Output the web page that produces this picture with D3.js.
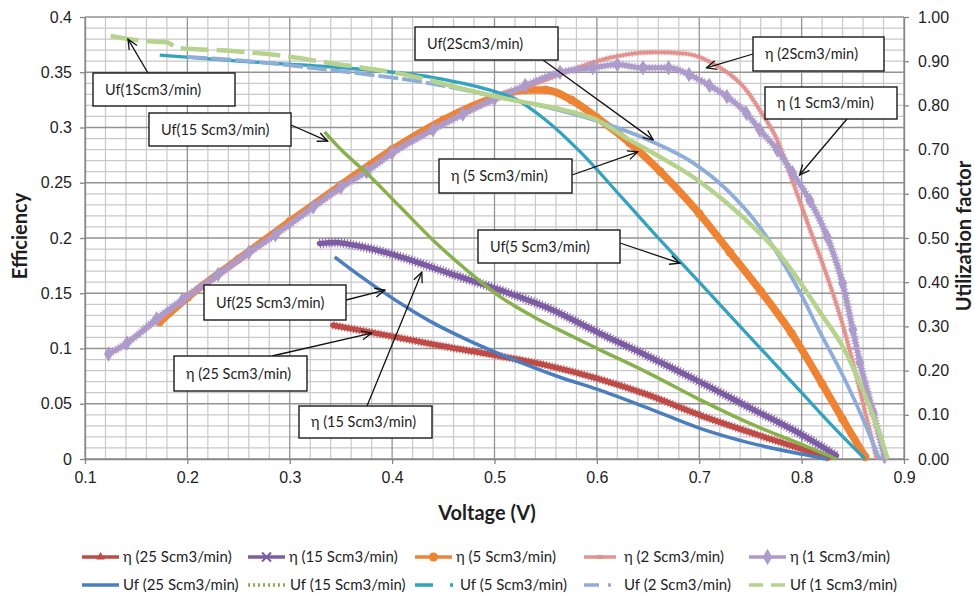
<!DOCTYPE html>
<html>
<head>
<meta charset="utf-8">
<script src="https://cdn.jsdelivr.net/npm/d3@7"></script>
<style>
  html, body { margin: 0; padding: 0; background: #fff; }
  svg { display: block; font-family: Lato, "Open Sans", sans-serif; }
</style>
</head>
<body>
<svg id="chart" width="974" height="596"></svg>
<script>
// ---- Efficiency series (left axis): cell voltage [V] and efficiency ----
const eta25V = [0.342, 0.36, 0.40, 0.45, 0.50, 0.55, 0.60, 0.65, 0.70, 0.75, 0.80, 0.826];
const eta25  = [0.121, 0.118, 0.111, 0.102, 0.094, 0.085, 0.073, 0.058, 0.040, 0.024, 0.009, 0.001];

const eta15V = [0.329, 0.345, 0.36, 0.385, 0.408, 0.456, 0.505, 0.554, 0.60, 0.65, 0.70, 0.75, 0.80, 0.834];
const eta15  = [0.195, 0.196, 0.194, 0.189, 0.183, 0.168, 0.153, 0.136, 0.115, 0.093, 0.070, 0.046, 0.022, 0.003];

const eta5V = [0.173, 0.2, 0.25, 0.3, 0.35, 0.4, 0.45, 0.5, 0.53, 0.55, 0.575, 0.60, 0.632, 0.662, 0.70, 0.73, 0.76, 0.79, 0.82, 0.84, 0.862];
const eta5  = [0.124, 0.146, 0.181, 0.215, 0.248, 0.280, 0.307, 0.327, 0.334, 0.334, 0.325, 0.309, 0.286, 0.260, 0.222, 0.187, 0.152, 0.114, 0.068, 0.036, 0.002];

const eta2V = [0.13, 0.15, 0.2, 0.25, 0.3, 0.35, 0.4, 0.45, 0.5, 0.55, 0.575, 0.596, 0.629, 0.655, 0.685, 0.70, 0.715, 0.73, 0.745, 0.759, 0.776, 0.791, 0.808, 0.825, 0.84, 0.857, 0.873];
const eta2  = [0.098, 0.111, 0.146, 0.179, 0.212, 0.245, 0.276, 0.303, 0.325, 0.343, 0.352, 0.359, 0.366, 0.368, 0.367, 0.364, 0.357, 0.348, 0.335, 0.316, 0.289, 0.252, 0.208, 0.165, 0.122, 0.062, 0.001];

const eta1V = [0.123, 0.141, 0.17, 0.195, 0.23, 0.26, 0.286, 0.323, 0.35, 0.375, 0.4, 0.44, 0.469, 0.5, 0.53, 0.564, 0.596, 0.62, 0.645, 0.67, 0.69, 0.71, 0.727, 0.746, 0.759, 0.776, 0.791, 0.808, 0.825, 0.84, 0.85, 0.857, 0.87, 0.881];
const eta1  = [0.095, 0.105, 0.127, 0.144, 0.167, 0.187, 0.203, 0.228, 0.246, 0.260, 0.277, 0.298, 0.312, 0.326, 0.338, 0.350, 0.354, 0.357, 0.354, 0.354, 0.348, 0.338, 0.328, 0.313, 0.298, 0.280, 0.259, 0.234, 0.201, 0.159, 0.117, 0.087, 0.042, 0.002];

// ---- Utilization factor series (right axis) ----
const uf25V = [0.344, 0.37, 0.391, 0.42, 0.44, 0.475, 0.512, 0.564, 0.60, 0.65, 0.70, 0.75, 0.80, 0.825];
const uf25  = [0.457, 0.412, 0.378, 0.335, 0.308, 0.268, 0.231, 0.185, 0.158, 0.115, 0.070, 0.036, 0.011, 0.0];

const uf15V = [0.334, 0.35, 0.375, 0.408, 0.44, 0.473, 0.505, 0.538, 0.571, 0.603, 0.65, 0.70, 0.75, 0.80, 0.834];
const uf15  = [0.740, 0.700, 0.647, 0.570, 0.495, 0.427, 0.368, 0.322, 0.283, 0.247, 0.195, 0.135, 0.080, 0.033, 0.0];

const uf5V = [0.173, 0.25, 0.34, 0.44, 0.495, 0.52, 0.55, 0.585, 0.625, 0.66, 0.68, 0.72, 0.746, 0.80, 0.83, 0.862];
const uf5  = [0.914, 0.900, 0.887, 0.863, 0.835, 0.815, 0.767, 0.692, 0.590, 0.500, 0.450, 0.350, 0.285, 0.150, 0.075, 0.0];

const uf2V = [0.2, 0.26, 0.339, 0.437, 0.502, 0.551, 0.60, 0.652, 0.694, 0.727, 0.759, 0.786, 0.80, 0.815, 0.84, 0.86, 0.876];
const uf2  = [0.910, 0.900, 0.880, 0.850, 0.819, 0.796, 0.765, 0.720, 0.670, 0.609, 0.525, 0.428, 0.370, 0.300, 0.190, 0.090, 0.0];

const uf1V = [0.125, 0.157, 0.18, 0.19, 0.245, 0.30, 0.339, 0.405, 0.437, 0.486, 0.518, 0.567, 0.60, 0.632, 0.662, 0.694, 0.727, 0.759, 0.776, 0.80, 0.82, 0.84, 0.86, 0.875, 0.884];
const uf1  = [0.957, 0.946, 0.943, 0.930, 0.923, 0.910, 0.896, 0.873, 0.857, 0.828, 0.812, 0.790, 0.767, 0.722, 0.683, 0.638, 0.579, 0.511, 0.470, 0.395, 0.325, 0.255, 0.155, 0.065, 0.0];

// ---- Axis ticks ----
const voltageTicks = [0.1, 0.2, 0.3, 0.4, 0.5, 0.6, 0.7, 0.8, 0.9];
const effTicks = [0, 0.05, 0.1, 0.15, 0.2, 0.25, 0.3, 0.35, 0.4];
const ufTicks = [0, 0.1, 0.2, 0.3, 0.4, 0.5, 0.6, 0.7, 0.8, 0.9, 1.0];

// ---- Series table (data + drawing style) ----
const zip = (a, b) => a.map((v, i) => [v, b[i]]);
const series = [
  { name: "η (25 Scm3/min)", pts: zip(eta25V, eta25), axis: "L", color: "#BE4B48", width: 5.5, texture: 8, marker: "triangle", mSize: 30 },
  { name: "η (15 Scm3/min)", pts: zip(eta15V, eta15), axis: "L", color: "#7D5CA3", width: 5.5, texture: 9.5, marker: "x", mSize: 50 },
  { name: "η (5 Scm3/min)",  pts: zip(eta5V, eta5),   axis: "L", color: "#EE8433", width: 7.5, texture: 0, marker: "circle", mSize: 60 },
  { name: "η (2 Scm3/min)",  pts: zip(eta2V, eta2),   axis: "L", color: "#E2928F", width: 3.5, texture: 5.5, marker: "dash", mSize: 20 },
  { name: "η (1 Scm3/min)",  pts: zip(eta1V, eta1),   axis: "L", color: "#AD9BCB", width: 5, texture: 8, marker: "diamond", mSize: 70 },
  { name: "Uf (25 Scm3/min)", pts: zip(uf25V, uf25), axis: "R", color: "#4A7EBF", width: 3.5, dash: null, legendDash: null },
  { name: "Uf (15 Scm3/min)", pts: zip(uf15V, uf15), axis: "R", color: "#88B04B", width: 3.5, dash: null, legendDash: "2,3" },
  { name: "Uf (5 Scm3/min)",  pts: zip(uf5V, uf5),   axis: "R", color: "#33A2BE", width: 3.3, dash: null, legendDash: "18,17,3,40" },
  { name: "Uf (2 Scm3/min)",  pts: zip(uf2V, uf2),   axis: "R", color: "#8FADDB", width: 3.8, dash: "20,4", dashUntil: 0.5, legendDash: "15,9,3,40" },
  { name: "Uf (1 Scm3/min)",  pts: zip(uf1V, uf1),   axis: "R", color: "#B5D38D", width: 4.5, dash: "28,8", dashUntil: 0.437, legendDash: "14,8" }
];

// ---- Scales ----
const x  = d3.scaleLinear().domain([0.1, 0.9]).range([85, 904]);
const yL = d3.scaleLinear().domain([0, 0.4]).range([459, 17]);
const yR = d3.scaleLinear().domain([0, 1]).range([459, 17]);
const yOf = s => (s.axis === "L" ? yL : yR);

const svg = d3.select("#chart");

// ---- Gridlines ----
const grid = svg.append("g");
const minorX = d3.range(0, 41).filter(i => i % 5 !== 0).map(i => 0.1 + i * 0.02);
const minorY = d3.range(0, 41).filter(i => i % 5 !== 0).map(i => i * 0.01);
grid.selectAll(".mx").data(minorX).join("line")
  .attr("x1", d => x(d)).attr("x2", d => x(d)).attr("y1", yL(0)).attr("y2", yL(0.4))
  .attr("stroke", "#c9c9c9").attr("stroke-width", 1.2);
grid.selectAll(".my").data(minorY).join("line")
  .attr("x1", x(0.1)).attr("x2", x(0.9)).attr("y1", d => yL(d)).attr("y2", d => yL(d))
  .attr("stroke", "#c9c9c9").attr("stroke-width", 1.2);
grid.selectAll(".Mx").data(voltageTicks).join("line")
  .attr("x1", d => x(d)).attr("x2", d => x(d)).attr("y1", yL(0)).attr("y2", yL(0.4))
  .attr("stroke", "#939393").attr("stroke-width", 1.3);
grid.selectAll(".My").data(effTicks).join("line")
  .attr("x1", x(0.1)).attr("x2", x(0.9)).attr("y1", d => yL(d)).attr("y2", d => yL(d))
  .attr("stroke", "#939393").attr("stroke-width", 1.3);

// ---- Axes ----
function styleAxis(g) {
  g.select(".domain").attr("stroke", "#868686").attr("stroke-width", 1.3);
  g.selectAll(".tick line").attr("stroke", "#868686").attr("stroke-width", 1.3);
  g.selectAll(".tick text").attr("fill", "#1e1e1e").attr("font-size", 16);
}
svg.append("g").attr("transform", `translate(0,${yL(0)})`)
  .call(d3.axisBottom(x).tickValues(voltageTicks).tickFormat(d3.format(".1f")).tickSize(5).tickPadding(8).tickSizeOuter(0))
  .call(styleAxis);
svg.append("g").attr("transform", `translate(${x(0.1)},0)`)
  .call(d3.axisLeft(yL).tickValues(effTicks).tickFormat(d => d === 0 ? "0" : d3.format(".2~f")(d)).tickSize(5).tickPadding(8).tickSizeOuter(0))
  .call(styleAxis);
svg.append("g").attr("transform", `translate(${x(0.9)},0)`)
  .call(d3.axisRight(yR).tickValues(ufTicks).tickFormat(d3.format(".2f")).tickSize(5).tickPadding(9).tickSizeOuter(0))
  .call(styleAxis);

// ---- Axis titles ----
svg.append("text").attr("x", 487).attr("y", 520).attr("text-anchor", "middle")
  .attr("font-size", 20).attr("font-weight", "bold").attr("fill", "#1e1e1e").text("Voltage (V)");
svg.append("text").attr("transform", "translate(27,236) rotate(-90)").attr("text-anchor", "middle")
  .attr("font-size", 20).attr("font-weight", "bold").attr("fill", "#1e1e1e").text("Efficiency");
svg.append("text").attr("transform", "translate(971,236) rotate(-90)").attr("text-anchor", "middle")
  .attr("font-size", 20).attr("font-weight", "bold").attr("fill", "#1e1e1e").text("Utilization factor");

// ---- Markers ----
const symbolType = {
  triangle: d3.symbolTriangle, x: d3.symbolTimes, circle: d3.symbolCircle, diamond: d3.symbolDiamond
};
function drawMarker(g, s, cx, cy, scale) {
  if (!s.marker) return;
  if (s.marker === "dash") {
    g.append("rect").attr("x", cx - 3).attr("y", cy - 2).attr("width", 6).attr("height", 4).attr("fill", s.color);
    return;
  }
  const p = d3.symbol().type(symbolType[s.marker]).size(s.mSize * scale)();
  const m = g.append("path").attr("d", p).attr("transform", `translate(${cx},${cy})`);
  if (s.marker === "x") m.attr("fill", "none").attr("stroke", s.color).attr("stroke-width", 2);
  else m.attr("fill", s.color);
}

// ---- Curves ----
const plot = svg.append("g");
const lineFor = s => d3.line().x(d => x(d[0])).y(d => yOf(s)(d[1])).curve(d3.curveMonotoneX);

series.filter(s => s.axis === "L").forEach(s => {
  const g = plot.append("g");
  g.append("path").attr("d", lineFor(s)(s.pts)).attr("fill", "none")
    .attr("stroke", s.color).attr("stroke-width", s.width).attr("stroke-linejoin", "round").attr("stroke-linecap", "round");
  if (s.texture) {
    // dense-marker fringe along the curve
    g.append("path").attr("d", lineFor(s)(s.pts)).attr("fill", "none")
      .attr("stroke", s.color).attr("stroke-width", s.texture).attr("stroke-dasharray", "1.2,1.8").attr("opacity", 0.85);
  }
  if (s.marker === "diamond" || s.marker === "circle") {
    s.pts.forEach(d => drawMarker(g, s, x(d[0]), yOf(s)(d[1]), 1));
  }
});
series.filter(s => s.axis === "R").forEach(s => {
  if (s.dash) {
    // sparse early samples render as dashes, the dense remainder as a solid trace
    let cut = s.pts.findIndex(d => d[0] >= s.dashUntil);
    if (cut < 0) cut = s.pts.length - 1;
    const head = s.pts.slice(0, cut + 1);
    const tail = s.pts.slice(cut);
    plot.append("path").attr("d", lineFor(s)(head)).attr("fill", "none")
      .attr("stroke", s.color).attr("stroke-width", s.width).attr("stroke-dasharray", s.dash);
    plot.append("path").attr("d", lineFor(s)(tail)).attr("fill", "none")
      .attr("stroke", s.color).attr("stroke-width", s.width).attr("stroke-linejoin", "round");
  } else {
    plot.append("path").attr("d", lineFor(s)(s.pts)).attr("fill", "none")
      .attr("stroke", s.color).attr("stroke-width", s.width).attr("stroke-linejoin", "round");
  }
});

// ---- Callout boxes with arrows ----
const defs = svg.append("defs");
defs.append("marker").attr("id", "arrow").attr("viewBox", "0 0 12 12").attr("refX", 11).attr("refY", 6)
  .attr("markerWidth", 12).attr("markerHeight", 12).attr("markerUnits", "userSpaceOnUse").attr("orient", "auto")
  .append("path").attr("d", "M1,1.5 L11,6 L1,10.5").attr("fill", "none").attr("stroke", "#111").attr("stroke-width", 1.3);

const callouts = [
  { text: "Uf(1Scm3/min)",    box: [93, 73, 142, 33],  from: [148, 73],  tip: [0.142, 0.950], axis: "R" },
  { text: "Uf(15 Scm3/min)",  box: [149, 113, 142, 33], from: [291, 125], tip: [0.337, 0.719], axis: "R" },
  { text: "Uf(2Scm3/min)",    box: [415, 27, 143, 33],  from: [543, 60],  tip: [0.655, 0.722], axis: "R" },
  { text: "η (5 Scm3/min)",   box: [439, 159, 133, 34], from: [572, 175], tip: [0.640, 0.278], axis: "L" },
  { text: "η (2Scm3/min)",    box: [753, 37, 131, 34],  from: [753, 54],  tip: [0.707, 0.354], axis: "L" },
  { text: "η (1 Scm3/min)",   box: [765, 87, 132, 32],  from: [847, 119], tip: [0.798, 0.257], axis: "L" },
  { text: "Uf(5 Scm3/min)",   box: [478, 230, 142, 33], from: [620, 243], tip: [0.681, 0.443], axis: "R" },
  { text: "Uf(25 Scm3/min)",  box: [204, 285, 142, 35], from: [346, 300], tip: [0.393, 0.382], axis: "R" },
  { text: "η (25 Scm3/min)",  box: [174, 356, 133, 35], from: [272, 356], tip: [0.380, 0.114], axis: "L" },
  { text: "η (15 Scm3/min)",  box: [299, 406, 133, 32], from: [367, 406], tip: [0.429, 0.169], axis: "L" }
];
const cg = svg.append("g");
callouts.forEach(c => {
  const yS = c.axis === "L" ? yL : yR;
  cg.append("line").attr("x1", c.from[0]).attr("y1", c.from[1])
    .attr("x2", x(c.tip[0])).attr("y2", yS(c.tip[1]))
    .attr("stroke", "#111").attr("stroke-width", 1.3).attr("marker-end", "url(#arrow)");
  const [bx, by, bw, bh] = c.box;
  cg.append("rect").attr("x", bx).attr("y", by).attr("width", bw).attr("height", bh)
    .attr("fill", "#fff").attr("stroke", "#1a1a1a").attr("stroke-width", 1.4);
  cg.append("text").attr("x", bx + 12).attr("y", by + bh / 2 + 5).attr("font-size", 14.5).attr("fill", "#1e1e1e").text(c.text);
});

// ---- Legend ----
const legendCols = [82, 248, 415, 584, 749];
const lg = svg.append("g");
series.forEach((s, i) => {
  const row = i < 5 ? 0 : 1;
  const col = i % 5;
  const x0 = legendCols[col];
  const yy = row === 0 ? 557 : 585;
  const g = lg.append("g");
  const len = s.axis === "R" && (col === 2 || col === 3) ? (col === 2 ? 40 : 29) : (col === 3 ? 32 : 37);
  g.append("line").attr("x1", x0).attr("x2", x0 + len).attr("y1", yy).attr("y2", yy)
    .attr("stroke", s.color).attr("stroke-width", 3.5)
    .attr("stroke-dasharray", s.axis === "R" ? s.legendDash : null)
    .attr("stroke-linecap", "butt");
  if (s.axis === "L") drawMarker(g, s, x0 + len / 2, yy, 1.1);
  let tx = x0 + 41;
  if (s.axis === "R" && col === 1) tx = x0 + 42;
  if (s.axis === "R" && col === 2) tx = x0 + 45;
  if (col === 3) tx = x0 + 40;
  g.append("text").attr("x", tx).attr("y", yy + 5).attr("font-size", 15).attr("fill", "#1e1e1e").text(s.name);
});
</script>
</body>
</html>
